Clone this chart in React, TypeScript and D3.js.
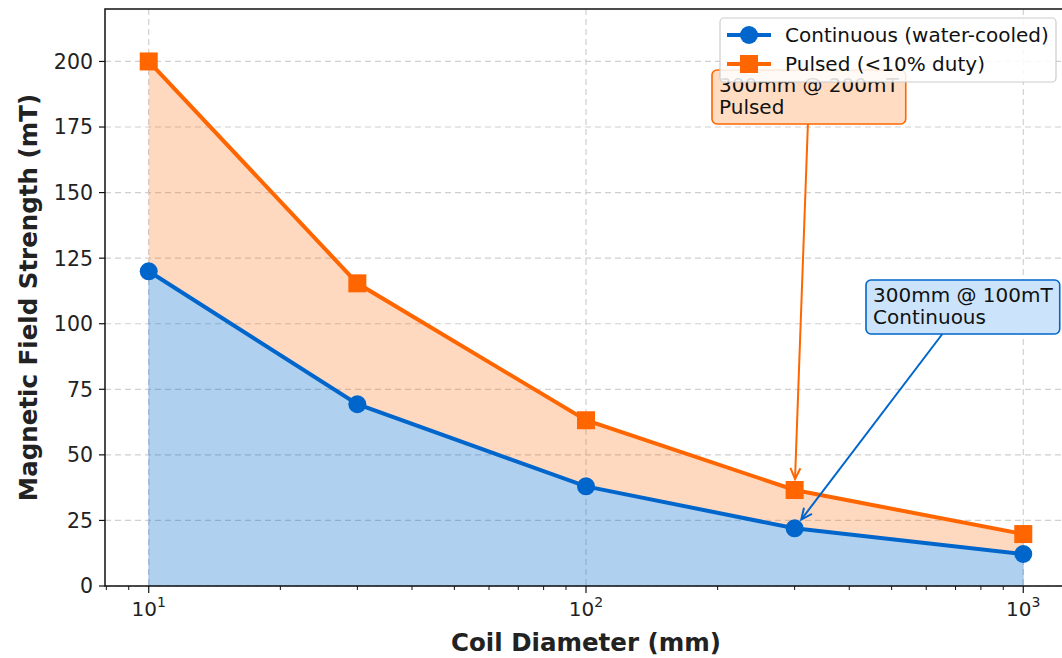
import React, { useEffect, useRef } from 'react';
import * as d3 from 'd3';

const diameters = [10, 30, 100, 300, 1000];
const continuousField = [120, 69.3, 38, 22, 12.2];
const pulsedField = [200, 115.4, 63.2, 36.6, 19.8];
const yTicks = [0, 25, 50, 75, 100, 125, 150, 175, 200];
const xMajorTicks = [10, 100, 1000];
const seriesNames = ['Continuous (water-cooled)', 'Pulsed (<10% duty)'];
const annotations = [
  { lines: ['300mm @ 200mT', 'Pulsed'], x: 300, y: 36.6, boxX: 712, boxY: 70, kind: 'pulsed' },
  { lines: ['300mm @ 100mT', 'Continuous'], x: 300, y: 22, boxX: 866, boxY: 280, kind: 'continuous' },
];

const BLUE = '#0066cc';
const ORANGE = '#ff6600';
const FONT = '"DejaVu Sans", Verdana, sans-serif';

const width = 1062;
const height = 658;
const left = 105;
const right = 1067;
const top = 9;
const bottom = 586;

export default function App() {
  const ref = useRef<SVGSVGElement>(null);

  useEffect(() => {
    const svg = d3.select(ref.current);
    svg.selectAll('*').remove();

    const x = d3.scaleLog().domain([Math.pow(10, 0.9), Math.pow(10, 3.1)]).range([left, right]);
    const y = d3.scaleLinear().domain([0, 220]).range([bottom, top]);

    const data = diameters.map((d, i) => ({ d, c: continuousField[i], p: pulsedField[i] }));

    // grid
    const grid = svg.append('g');
    xMajorTicks.forEach(t => {
      grid.append('line').attr('x1', x(t)).attr('x2', x(t)).attr('y1', top).attr('y2', bottom)
        .attr('stroke', '#d0d0d0').attr('stroke-dasharray', '6,4').attr('stroke-width', 1.2);
    });
    yTicks.forEach(t => {
      grid.append('line').attr('x1', left).attr('x2', right).attr('y1', y(t)).attr('y2', y(t))
        .attr('stroke', '#d0d0d0').attr('stroke-dasharray', '6,4').attr('stroke-width', 1.2);
    });

    // fills
    const areaLow = d3.area<any>().x(d => x(d.d)).y0(y(0)).y1(d => y(d.c));
    const areaHigh = d3.area<any>().x(d => x(d.d)).y0(d => y(d.c)).y1(d => y(d.p));
    svg.append('path').attr('d', areaLow(data)).attr('fill', BLUE).attr('fill-opacity', 0.31)
      .attr('stroke', BLUE).attr('stroke-opacity', 0.2);
    svg.append('path').attr('d', areaHigh(data)).attr('fill', ORANGE).attr('fill-opacity', 0.25);

    // lines
    const lineC = d3.line<any>().x(d => x(d.d)).y(d => y(d.c));
    const lineP = d3.line<any>().x(d => x(d.d)).y(d => y(d.p));
    svg.append('path').attr('d', lineC(data)).attr('fill', 'none').attr('stroke', BLUE).attr('stroke-width', 4);
    svg.append('path').attr('d', lineP(data)).attr('fill', 'none').attr('stroke', ORANGE).attr('stroke-width', 4);
    data.forEach(d => {
      svg.append('circle').attr('cx', x(d.d)).attr('cy', y(d.c)).attr('r', 9).attr('fill', BLUE);
      svg.append('rect').attr('x', x(d.d) - 9).attr('y', y(d.p) - 9).attr('width', 18).attr('height', 18).attr('fill', ORANGE);
    });

    // axes
    const ax = svg.append('g').attr('font-family', FONT).attr('fill', '#222');
    ax.append('rect').attr('x', left).attr('y', top).attr('width', right - left).attr('height', bottom - top)
      .attr('fill', 'none').attr('stroke', '#111').attr('stroke-width', 1.5);
    yTicks.forEach(t => {
      ax.append('line').attr('x1', left - 6).attr('x2', left).attr('y1', y(t)).attr('y2', y(t)).attr('stroke', '#111').attr('stroke-width', 1.2);
      ax.append('text').attr('x', left - 12).attr('y', y(t)).attr('dy', '0.36em').attr('text-anchor', 'end')
        .attr('font-size', 20.5).text(String(t));
    });
    const minor: number[] = [];
    [1, 10, 100, 1000].forEach(base => {
      for (let k = 2; k < 10; k++) {
        const v = base * k;
        if (v > x.domain()[0] && v < x.domain()[1]) minor.push(v);
      }
    });
    minor.forEach(t => {
      ax.append('line').attr('x1', x(t)).attr('x2', x(t)).attr('y1', bottom).attr('y2', bottom + 4).attr('stroke', '#111').attr('stroke-width', 1);
    });
    xMajorTicks.forEach(t => {
      ax.append('line').attr('x1', x(t)).attr('x2', x(t)).attr('y1', bottom).attr('y2', bottom + 7).attr('stroke', '#111').attr('stroke-width', 1.2);
      const tx = ax.append('text').attr('x', x(t)).attr('y', bottom + 30).attr('text-anchor', 'middle').attr('font-size', 20);
      tx.append('tspan').text('10');
      tx.append('tspan').attr('font-size', 14).attr('dy', -9).text(String(Math.round(Math.log10(t))));
    });
    ax.append('text').attr('x', (left + right) / 2).attr('y', 651).attr('text-anchor', 'middle')
      .attr('font-size', 24.5).attr('font-weight', 'bold').text('Coil Diameter (mm)');
    ax.append('text').attr('transform', `translate(37,${(top + bottom) / 2}) rotate(-90)`).attr('text-anchor', 'middle')
      .attr('font-size', 24.5).attr('font-weight', 'bold').text('Magnetic Field Strength (mT)');

    // annotations
    annotations.forEach(a => {
      const color = a.kind === 'pulsed' ? ORANGE : BLUE;
      const fill = a.kind === 'pulsed' ? '#ffdcc2' : '#cce4fb';
      const g = svg.append('g').attr('font-family', FONT);
      const texts = a.lines.map((l, i) => g.append('text').attr('x', a.boxX + 7).attr('y', a.boxY + 22 + i * 22)
        .attr('font-size', 20).attr('fill', '#111').text(l));
      const tw = d3.max(texts, t => (t.node() as SVGTextElement).getComputedTextLength()) || 180;
      const bw = tw + 14;
      const bh = 54;
      g.insert('rect', 'text').attr('x', a.boxX).attr('y', a.boxY).attr('width', bw).attr('height', bh).attr('rx', 5)
        .attr('fill', fill).attr('stroke', color).attr('stroke-width', 1.6);
      // arrow from box centre toward point, clipped at box edge
      const cx = a.boxX + bw / 2;
      const cy = a.boxY + bh / 2;
      const px = x(a.x);
      const py = y(a.y);
      const dx = px - cx;
      const dy = py - cy;
      const len = Math.hypot(dx, dy);
      const ux = dx / len;
      const uy = dy / len;
      const tBox = Math.min(Math.abs((bh / 2) / dy), Math.abs((bw / 2) / dx));
      const sx = cx + dx * tBox;
      const sy = cy + dy * tBox;
      const ex = px - ux * 11;
      const ey = py - uy * 11;
      g.append('line').attr('x1', sx).attr('y1', sy).attr('x2', ex).attr('y2', ey).attr('stroke', color).attr('stroke-width', 2);
      const hl = 11;
      const hw = 5;
      const bxp = ex - ux * hl;
      const byp = ey - uy * hl;
      g.append('path')
        .attr('d', `M${bxp - uy * hw},${byp + ux * hw}L${ex},${ey}L${bxp + uy * hw},${byp - ux * hw}`)
        .attr('fill', 'none').attr('stroke', color).attr('stroke-width', 2);
    });

    // legend
    const lg = svg.append('g').attr('font-family', FONT);
    lg.append('rect').attr('x', 720).attr('y', 18).attr('width', 336).attr('height', 64).attr('rx', 4)
      .attr('fill', 'white').attr('fill-opacity', 0.85).attr('stroke', '#cccccc').attr('stroke-width', 1.2);
    seriesNames.forEach((name, i) => {
      const ly = 35 + i * 29;
      const color = i === 0 ? BLUE : ORANGE;
      lg.append('line').attr('x1', 727).attr('x2', 771).attr('y1', ly).attr('y2', ly).attr('stroke', color).attr('stroke-width', 4);
      if (i === 0) lg.append('circle').attr('cx', 749).attr('cy', ly).attr('r', 9).attr('fill', color);
      else lg.append('rect').attr('x', 740).attr('y', ly - 9).attr('width', 18).attr('height', 18).attr('fill', color);
      lg.append('text').attr('x', 785).attr('y', ly).attr('dy', '0.35em').attr('font-size', 20).attr('fill', '#111').text(name);
    });
  }, []);

  return (
    <svg ref={ref} width={width} height={height}
      style={{ position: 'absolute', left: 0, top: 0, background: 'white' }} />
  );
}
